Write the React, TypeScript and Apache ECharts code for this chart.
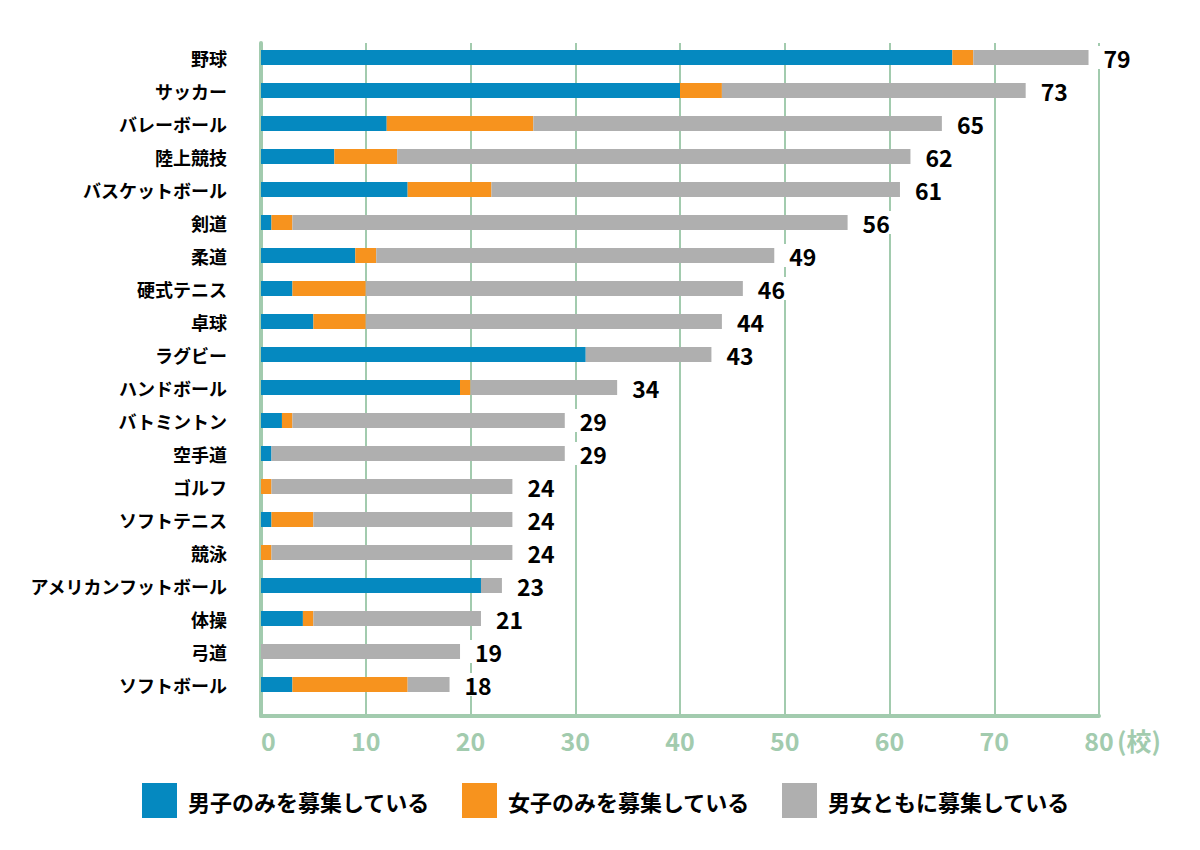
import React, { useEffect, useRef } from "react";
import * as echarts from "echarts";

const categories = [
  "野球", "サッカー", "バレーボール", "陸上競技", "バスケットボール", "剣道", "柔道",
  "硬式テニス", "卓球", "ラグビー", "ハンドボール", "バトミントン", "空手道", "ゴルフ",
  "ソフトテニス", "競泳", "アメリカンフットボール", "体操", "弓道", "ソフトボール",
];
const maleOnly = [66, 40, 12, 7, 14, 1, 9, 3, 5, 31, 19, 2, 1, 0, 1, 0, 21, 4, 0, 3];
const femaleOnly = [2, 4, 14, 6, 8, 2, 2, 7, 5, 0, 1, 1, 0, 1, 4, 1, 0, 1, 0, 11];
const both = [11, 29, 39, 49, 39, 53, 38, 36, 34, 12, 14, 26, 28, 23, 19, 23, 2, 16, 19, 4];
const seriesNames = ["男子のみを募集している", "女子のみを募集している", "男女ともに募集している"];
const xTicks = { min: 0, max: 80, interval: 10 };
const unitLabel = "(校)";

const GREEN = "#a2cbae";
const FONT = "'Noto Sans CJK JP', 'Noto Sans', sans-serif";

export default function App() {
  const ref = useRef<HTMLDivElement>(null);
  useEffect(() => {
    document.body.style.margin = "0";
    const chart = echarts.init(ref.current!, null, { renderer: "svg" });
    const totals = categories.map((_, i) => maleOnly[i] + femaleOnly[i] + both[i]);
    const colors = ["#0589c0", "#f7931e", "#afafaf"];
    const datasets = [maleOnly, femaleOnly, both];
    chart.setOption({
      animation: false,
      textStyle: { fontFamily: FONT },
      grid: [
        { left: 261, right: 101, top: 41, height: 660 },
        { left: 261, right: 101, top: 43, bottom: 134 },
      ],
      xAxis: [
        { gridIndex: 0, type: "value", min: xTicks.min, max: xTicks.max, show: false },
        {
          gridIndex: 1, type: "value", min: xTicks.min, max: xTicks.max, interval: xTicks.interval,
          axisLine: { show: true, lineStyle: { color: GREEN, width: 4 } },
          axisTick: { show: false },
          splitLine: { show: true, lineStyle: { color: GREEN, width: 2 } },
          axisLabel: {
            color: GREEN, fontSize: 25, fontWeight: "bold", margin: 11, fontFamily: FONT,
            alignMinLabel: "left",
          },
        },
      ],
      yAxis: [
        {
          gridIndex: 0, type: "category", inverse: true, data: categories,
          axisLine: { show: false }, axisTick: { show: false }, splitLine: { show: false },
          axisLabel: { color: "#000", fontSize: 18, fontWeight: "bold", margin: 34, fontFamily: FONT },
        },
        {
          gridIndex: 1, type: "value", min: 0, max: 1,
          axisLine: { show: true, lineStyle: { color: GREEN, width: 4 } },
          axisTick: { show: false }, axisLabel: { show: false }, splitLine: { show: false },
        },
      ],
      legend: {
        data: seriesNames,
        left: 137, top: 778,
        itemWidth: 35, itemHeight: 35, itemGap: 32,
        icon: "rect",
        textStyle: { fontSize: 22, fontWeight: "bold", color: "#000", width: 240, padding: [0, 0, 0, 6], fontFamily: FONT },
      },
      graphic: [
        {
          type: "text", left: 1117, top: 727,
          style: { text: unitLabel, fill: GREEN, fontSize: 25, fontWeight: "bold", fontFamily: FONT },
        },
      ],
      series: datasets.map((d, k) => ({
        name: seriesNames[k],
        type: "bar",
        stack: "total",
        xAxisIndex: 0,
        yAxisIndex: 0,
        barWidth: 15,
        data: d,
        itemStyle: { color: colors[k] },
        label: k === 2 ? {
          show: true, position: "right", distance: 9,
          formatter: (p: any) => String(totals[p.dataIndex]),
          color: "#000", fontSize: 23, fontWeight: "bold", fontFamily: FONT,
          backgroundColor: "#fff", padding: [0, 3, 0, 6],
        } : { show: false },
      })),
    });
    return () => chart.dispose();
  }, []);
  return <div ref={ref} style={{ width: 1200, height: 850 }} />;
}
